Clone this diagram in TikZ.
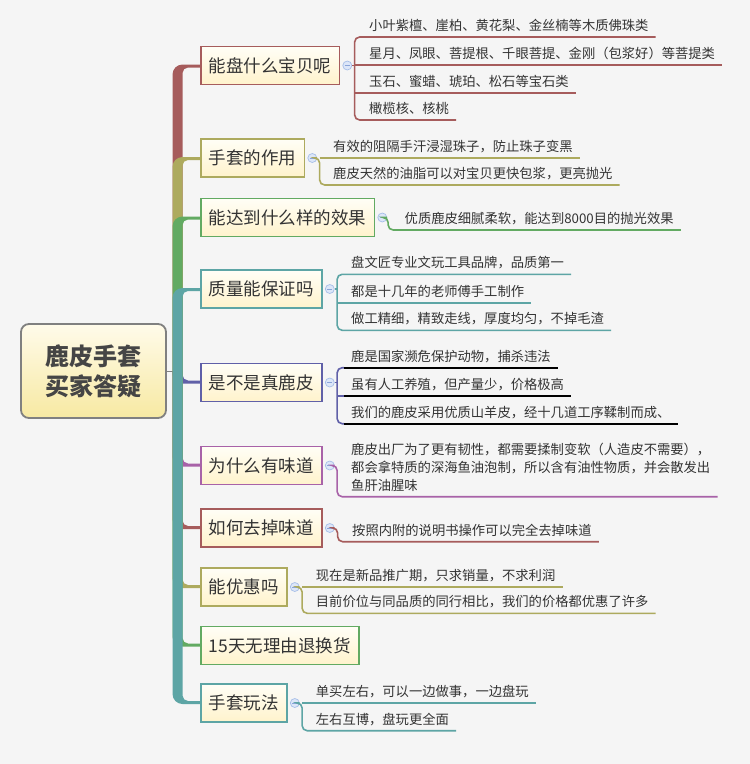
\documentclass[tikz,border=0pt]{standalone}
\usepackage{fontspec}
\newfontfamily\cjk{Noto Sans CJK SC}
\usetikzlibrary{calc}
\pgfdeclarelayer{bglayer}
\pgfsetlayers{bglayer,main}
\definecolor{bgc}{HTML}{F5F5F5}
\definecolor{cred}{HTML}{A65C5C}
\definecolor{colive}{HTML}{ADAA5E}
\definecolor{cgreen}{HTML}{62AA62}
\definecolor{cteal}{HTML}{5DA5A5}
\definecolor{cblue}{HTML}{6060A8}
\definecolor{cmag}{HTML}{A862A8}
\definecolor{boxtop}{HTML}{FFFEF6}
\definecolor{boxbot}{HTML}{FFF3CC}
\definecolor{roottop}{HTML}{FFFBEA}
\definecolor{rootbot}{HTML}{F7E9A2}
\definecolor{rootb}{HTML}{808080}
\definecolor{txt}{HTML}{333333}
\definecolor{roottxt}{HTML}{454545}
\definecolor{indf}{HTML}{DCE6F8}
\definecolor{indb}{HTML}{A6BEE8}
\definecolor{indm}{HTML}{8AA4D8}
\newcommand\brup[2]{%
  \fill[#1, shift={(#2.west)}] (-27.5,0 |- root.east) -- (-27.5,9)
    .. controls (-27.5,3.5) and (-23,-1) .. (-17.5,-1) -- (1,-1) -- (1,2) -- (-12,2)
    .. controls (-15,2) and (-17.5,4.5) .. (-17.5,7.5) -- (-17.5,0 |- root.east) -- cycle;}
\newcommand\brdown[2]{%
  \fill[#1, shift={(#2.west)}] (-27.5,0 |- root.east) -- (-27.5,-9)
    .. controls (-27.5,-3.5) and (-23,1) .. (-17.5,1) -- (1,1) -- (1,-2) -- (-12,-2)
    .. controls (-15,-2) and (-17.5,-4.5) .. (-17.5,-7.5) -- (-17.5,0 |- root.east) -- cycle;}
\begin{document}
\begin{tikzpicture}[x=1pt,y=-1pt,
  box/.style={draw=#1, line width=1.8pt, top color=boxtop, bottom color=boxbot,
    inner xsep=8pt, inner ysep=0pt, minimum height=38pt, anchor=west, text=txt,
    font=\cjk\fontsize{17.5}{21}\selectfont},
  rootbox/.style={draw=rootb, line width=1.8pt, rounded corners=8pt, top color=roottop,
    bottom color=rootbot, minimum width=145pt, minimum height=94pt, align=center,
    text=roottxt, font=\cjk\bfseries\fontsize{24}{30}\selectfont},
  ind/.style={circle, draw=indb, fill=indf, line width=0.7pt, minimum size=9pt, inner sep=0pt,
    path picture={\draw[indm, line width=0.9pt] ([xshift=-2.6pt]path picture bounding box.center)
      -- ([xshift=2.6pt]path picture bounding box.center);}},
  leaf/.style={anchor=south west, inner xsep=7pt, inner ysep=5.5pt, text height=11pt,
    text depth=1pt, text=txt, font=\cjk\fontsize{13.3}{18}\selectfont},
  leafm/.style={anchor=south west, inner xsep=7pt, inner ysep=5.2pt, align=left, text=txt,
    font=\cjk\fontsize{13.3}{18}\selectfont},
  twig/.style={draw=#1, line width=1.6pt, rounded corners=5pt},
]
\useasboundingbox (0,0) rectangle (750,764);

% root and main boxes
\node[rootbox] (root) at (93.5,371) {鹿皮手套\\买家答疑};
\node[box=cred]   (b1)  at (200,65.5)  {能盘什么宝贝呢};
\node[box=colive] (b2)  at (200,158)   {手套的作用};
\node[box=cgreen] (b3)  at (200,217.5) {能达到什么样的效果};
\node[box=cteal]  (b4)  at (200,289)   {质量能保证吗};
\node[box=cblue]  (b5)  at (200,382.5) {是不是真鹿皮};
\node[box=cmag]   (b6)  at (200,465.5) {为什么有味道};
\node[box=cred]   (b7)  at (200,528)   {如何去掉味道};
\node[box=colive] (b8)  at (200,587)   {能优惠吗};
\node[box=cgreen] (b9)  at (200,645.5) {15天无理由退换货};
\node[box=cteal]  (b10) at (200,703)   {手套玩法};

\begin{pgfonlayer}{bglayer}
\fill[bgc] (0,0) rectangle (750,764);
\draw[rootb, line width=1pt] (root.east) -- ++(8,0);
\brup{cred}{b1}
\brup{colive}{b2}
\brup{cgreen}{b3}
\brup{cteal}{b4}
\brdown{cblue}{b5}
\brdown{cmag}{b6}
\brdown{cred}{b7}
\brdown{colive}{b8}
\brdown{cgreen}{b9}
\brdown{cteal}{b10}
\end{pgfonlayer}

% collapse indicators
\node[ind] (i1)  at ([xshift=7pt]b1.east) {};
\node[ind] (i2)  at ([xshift=7pt]b2.east) {};
\node[ind] (i3)  at ([xshift=7pt]b3.east) {};
\node[ind] (i4)  at ([xshift=7pt]b4.east) {};
\node[ind] (i5)  at ([xshift=7pt]b5.east) {};
\node[ind] (i6)  at ([xshift=7pt]b6.east) {};
\node[ind] (i7)  at ([xshift=7pt]b7.east) {};
\node[ind] (i8)  at ([xshift=7pt]b8.east) {};
\node[ind] (i10) at ([xshift=7pt]b10.east) {};
\coordinate (k1)  at ([xshift=2.5pt]i1.east);
\coordinate (k2)  at ([xshift=2.5pt]i2.east);
\coordinate (k3)  at ([xshift=1pt]i3.east);
\coordinate (k4)  at ([xshift=2.5pt]i4.east);
\coordinate (k5)  at ([xshift=2.5pt]i5.east);
\coordinate (k6)  at ([xshift=2.5pt]i6.east);
\coordinate (k7)  at ([xshift=3pt]i7.east);
\coordinate (k8)  at ([xshift=2.5pt]i8.east);
\coordinate (k10) at ([xshift=2.5pt]i10.east);

% leaves
\node[leaf] (l11) at (362,37)  {小叶紫檀、崖柏、黄花梨、金丝楠等木质佛珠类};
\node[leaf] (l12) at (362,65)  {星月、凤眼、菩提根、千眼菩提、金刚（包浆好）等菩提类};
\node[leaf] (l13) at (362,93)  {玉石、蜜蜡、琥珀、松石等宝石类};
\node[leaf] (l14) at (362,120) {橄榄核、核桃};
\node[leaf] (l21) at (326,158) {有效的阻隔手汗浸湿珠子，防止珠子变黑};
\node[leaf] (l22) at (326,185) {鹿皮天然的油脂可以对宝贝更快包浆，更亮抛光};
\node[leaf] (l3)  at (397.5,230) {优质鹿皮细腻柔软，能达到8000目的抛光效果};
\node[leaf] (l41) at (344,274.3) {盘文匠专业文玩工具品牌，品质第一};
\node[leaf] (l42) at (344,302.7) {都是十几年的老师傅手工制作};
\node[leaf] (l43) at (344,330.3) {做工精细，精致走线，厚度均匀，不掉毛渣};
\node[leaf] (l51) at (344,367.7) {鹿是国家濒危保护动物，捕杀违法};
\node[leaf] (l52) at (344,396)   {虽有人工养殖，但产量少，价格极高};
\node[leaf] (l53) at (344,423.7) {我们的鹿皮采用优质山羊皮，经十几道工序鞣制而成、};
\node[leafm] (l6) at (344,496.7) {鹿皮出厂为了更有韧性，都需要揉制变软（人造皮不需要），\\都会拿特质的深海鱼油泡制，所以含有油性物质，并会散发出\\鱼肝油腥味};
\node[leaf] (l7)  at (345,541.7) {按照内附的说明书操作可以完全去掉味道};
\node[leaf] (l81) at (308.7,587)   {现在是新品推广期，只求销量，不求利润};
\node[leaf] (l82) at (308.7,613.3) {目前价位与同品质的同行相比，我们的价格都优惠了许多};
\node[leaf] (l101) at (308.7,703)   {单买左右，可以一边做事，一边盘玩};
\node[leaf] (l102) at (308.7,730.7) {左右互博，盘玩更全面};

% twigs
\draw[twig=cred] (l11.south east) -- (k1 |- l11.south) -- (k1 |- l14.south) -- (l14.south east);
\draw[twig=cred] (k1 |- l12.south) -- (l12.south east);
\draw[twig=cred] (k1 |- l13.south) -- (l13.south east);
\draw[twig=cred] (i1.east) -- (k1 |- i1.east);

\draw[twig=colive] (i2.east) -- (k2 |- i2.east) -- (k2 |- l22.south) -- (l22.south east);
\draw[twig=colive] (k2 |- l21.south) -- (l21.south east);

\draw[twig=cgreen] (i3.east) -- (k3 |- i3.east) -- (k3 |- l3.south) -- (l3.south east);

\draw[twig=cteal] (l41.south east) -- (k4 |- l41.south) -- (k4 |- l43.south) -- (l43.south east);
\draw[twig=cteal] (k4 |- l42.south) -- (l42.south east);
\draw[twig=cteal] (i4.east) -- (k4 |- i4.east);

\draw[twig=cblue] (l51.south west) -- (k5 |- l51.south) -- (k5 |- l53.south) -- (l53.south west);
\draw[twig=cblue] (k5 |- l52.south) -- (l52.south west);
\draw[twig=cblue] (i5.east) -- (k5 |- i5.east);
\draw[twig=black] (l51.south west) -- (l51.south east);
\draw[twig=black] (l52.south west) -- (l52.south east);
\draw[twig=black] (l53.south west) -- (l53.south east);

\draw[twig=cmag] (i6.east) -- (k6 |- i6.east) -- (k6 |- l6.south) -- (l6.south east);

\draw[twig=cred] (i7.east) -- (k7 |- i7.east) -- (k7 |- l7.south) -- (l7.south east);

\draw[twig=colive] (i8.east) -- (k8 |- i8.east) -- (k8 |- l82.south) -- (l82.south east);
\draw[twig=colive] (k8 |- l81.south) -- (l81.south east);

\draw[twig=cteal] (i10.east) -- (k10 |- i10.east) -- (k10 |- l102.south) -- (l102.south east);
\draw[twig=cteal] (k10 |- l101.south) -- (l101.south east);
\end{tikzpicture}
\end{document}
